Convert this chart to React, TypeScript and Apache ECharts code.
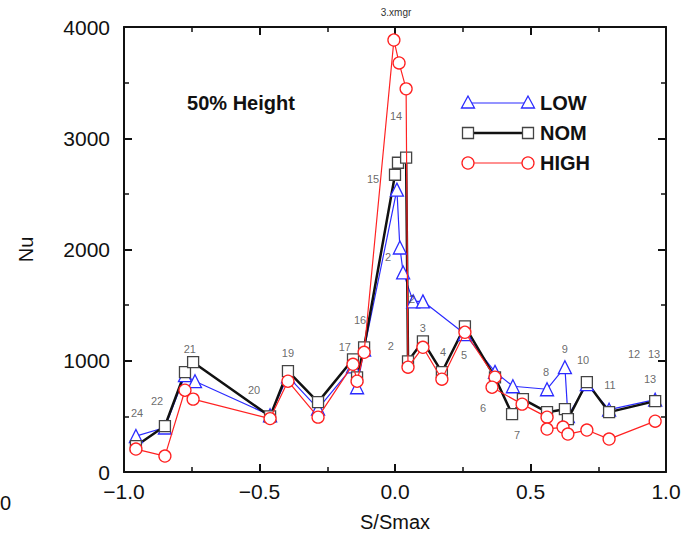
import React, { useEffect, useRef } from "react";
import * as echarts from "echarts";

const xTickLabels: Record<string, string> = { "-1": "\u22121.0", "-0.5": "\u22120.5", "0": "0.0", "0.5": "0.5", "1": "1.0" };
const yTickLabels = ["0", "1000", "2000", "3000", "4000"];

const lowX = [-0.956, -0.849, -0.775, -0.738, -0.461, -0.395, -0.284, -0.155, -0.14, -0.114, 0.007, 0.018, 0.03, 0.067, 0.103, 0.258, 0.369, 0.435, 0.561, 0.627, 0.638, 0.708, 0.79, 0.96];
const lowY = [323, 400, 870, 816, 510, 860, 570, 950, 762, 1100, 2538, 2018, 1794, 1534, 1534, 1240, 900, 771, 744, 942, 502, 790, 560, 650];

const nomX = [-0.956, -0.849, -0.775, -0.745, -0.461, -0.395, -0.284, -0.155, -0.14, -0.114, 0.0, 0.011, 0.041, 0.048, 0.103, 0.173, 0.258, 0.369, 0.432, 0.472, 0.561, 0.627, 0.638, 0.708, 0.79, 0.96];
const nomY = [233, 413, 897, 987, 500, 906, 628, 1013, 850, 1121, 2672, 2780, 2825, 995, 1175, 897, 1309, 850, 520, 655, 538, 565, 475, 807, 538, 637];

const highX = [-0.956, -0.849, -0.775, -0.745, -0.461, -0.395, -0.284, -0.155, -0.14, -0.114, -0.004, 0.015, 0.041, 0.048, 0.103, 0.173, 0.258, 0.369, 0.358, 0.469, 0.561, 0.561, 0.62, 0.638, 0.708, 0.79, 0.96];
const highY = [206, 143, 735, 655, 480, 816, 493, 968, 816, 1076, 3883, 3677, 3444, 942, 1121, 834, 1256, 852, 762, 610, 493, 386, 404, 341, 377, 296, 457];

const stationNames = ["24", "22", "21", "20", "19", "17", "16", "15", "14", "2", "2", "2", "3", "4", "5", "6", "7", "8", "9", "10", "11", "12", "13", "13"];
const stationX = [-0.952, -0.878, -0.757, -0.52, -0.395, -0.185, -0.129, -0.081, 0.004, -0.026, -0.015, 0.063, 0.103, 0.177, 0.255, 0.325, 0.45, 0.557, 0.627, 0.694, 0.793, 0.882, 0.956, 0.941];
const stationY = [529, 637, 1103, 735, 1067, 1121, 1363, 2637, 3202, 1937, 1130, 1552, 1291, 1076, 1049, 574, 332, 897, 1103, 1004, 780, 1058, 1058, 834];

const legendNames = ["LOW", "NOM", "HIGH"];
const BLUE = "#2b2bff";
const BLACK = "#111111";
const RED = "#ff2222";
const LABEL = "#444444";
const FONT = "Liberation Sans, Arial, sans-serif";

function zip(xs: number[], ys: number[]) {
  return xs.map((x, i) => [x, ys[i]]);
}

export default function App() {
  const ref = useRef<HTMLDivElement>(null);
  useEffect(() => {
    if (!ref.current) return;
    const chart = echarts.init(ref.current, undefined, { renderer: "svg" });
    const axisCommon = {
      axisLine: { show: true, onZero: false, lineStyle: { color: BLACK, width: 2 } },
      axisTick: { show: true, inside: true, length: 8, lineStyle: { color: BLACK, width: 2 } },
      minorTick: { show: true, splitNumber: 2, length: 5, lineStyle: { color: BLACK, width: 1.5 } },
      splitLine: { show: false },
    };
    const legendY = [103, 133, 163];
    const legendSym = ["tri", "rect", "circ"];
    const legendColors = [BLUE, "#333333", RED];
    const legendGraphics: any[] = [];
    legendNames.forEach((name, i) => {
      const y = legendY[i];
      const c = legendColors[i];
      legendGraphics.push({
        type: "line",
        shape: { x1: 468, y1: y, x2: 528, y2: y },
        style: { stroke: i === 1 ? BLACK : c, lineWidth: i === 1 ? 2.5 : 1.2 },
      });
      [468, 528].forEach((cx) => {
        if (legendSym[i] === "tri") {
          legendGraphics.push({
            type: "polygon",
            shape: { points: [[cx, y - 7], [cx - 6.5, y + 5], [cx + 6.5, y + 5]] },
            style: { fill: "#fff", stroke: c, lineWidth: 1.3 },
          });
        } else if (legendSym[i] === "rect") {
          legendGraphics.push({
            type: "rect",
            shape: { x: cx - 5.5, y: y - 5.5, width: 11, height: 11 },
            style: { fill: "#fff", stroke: "#444", lineWidth: 1.3 },
          });
        } else {
          legendGraphics.push({
            type: "circle",
            shape: { cx, cy: y, r: 6 },
            style: { fill: "#fff", stroke: c, lineWidth: 1.3 },
          });
        }
      });
      legendGraphics.push({
        type: "text",
        x: 540,
        y,
        style: { text: name, font: `bold 20px ${FONT}`, fill: BLACK, textVerticalAlign: "middle" },
      });
    });

    chart.setOption({
      animation: false,
      backgroundColor: "#ffffff",
      grid: { left: 124, right: 26, top: 27, bottom: 64 },
      xAxis: [
        {
          type: "value",
          min: -1,
          max: 1,
          interval: 0.5,
          position: "bottom",
          ...axisCommon,
          axisLabel: {
            margin: 9,
            color: BLACK,
            fontFamily: FONT,
            fontSize: 21,
            formatter: (v: number) => xTickLabels[String(v)] ?? String(v),
          },
          name: "S/Smax",
          nameLocation: "middle",
          nameGap: 40,
          nameTextStyle: { color: BLACK, fontFamily: FONT, fontSize: 20 },
        },
        {
          type: "value",
          min: -1,
          max: 1,
          interval: 0.5,
          position: "top",
          ...axisCommon,
          axisLabel: { show: false },
        },
      ],
      yAxis: [
        {
          type: "value",
          min: 0,
          max: 4000,
          interval: 1000,
          position: "left",
          ...axisCommon,
          axisLabel: {
            margin: 14,
            color: BLACK,
            fontFamily: FONT,
            fontSize: 21,
            padding: [0, 0, 4, 0],
            formatter: (v: number) => yTickLabels[Math.round(v / 1000)] ?? String(v),
          },
          name: "Nu",
          nameLocation: "middle",
          nameGap: 88,
          nameTextStyle: { color: BLACK, fontFamily: FONT, fontSize: 20 },
        },
        {
          type: "value",
          min: 0,
          max: 4000,
          interval: 1000,
          position: "right",
          ...axisCommon,
          axisLabel: { show: false },
        },
      ],
      series: [
        {
          name: "LOW",
          type: "line",
          data: zip(lowX, lowY),
          symbol: "triangle",
          symbolSize: 13,
          showAllSymbol: true,
          lineStyle: { color: BLUE, width: 1.2 },
          itemStyle: { color: "#fff", borderColor: BLUE, borderWidth: 1.3 },
          z: 3,
        },
        {
          name: "HIGH",
          type: "line",
          data: zip(highX, highY),
          symbol: "circle",
          symbolSize: 12,
          showAllSymbol: true,
          lineStyle: { color: RED, width: 1.2 },
          itemStyle: { color: "#fff", borderColor: RED, borderWidth: 1.3 },
          z: 4,
        },
        {
          name: "NOM",
          type: "line",
          data: zip(nomX, nomY),
          symbol: "rect",
          symbolSize: 11,
          showAllSymbol: true,
          lineStyle: { color: BLACK, width: 2.5 },
          itemStyle: { color: "#fff", borderColor: "#444", borderWidth: 1.3 },
          z: 3,
        },
        {
          name: "stations",
          type: "scatter",
          data: stationX.map((x, i) => ({ value: [x, stationY[i]], name: stationNames[i] })),
          symbolSize: 1,
          silent: true,
          itemStyle: { color: "rgba(0,0,0,0)" },
          label: {
            show: true,
            position: "top",
            distance: -6,
            formatter: (p: any) => p.name,
            color: LABEL,
            fontFamily: FONT,
            fontSize: 11,
          },
          z: 6,
        },
      ],
      graphic: [
        {
          type: "text",
          x: 241,
          y: 103,
          style: { text: "50% Height", font: `bold 20px ${FONT}`, fill: BLACK, textAlign: "center", textVerticalAlign: "middle" },
        },
        {
          type: "text",
          x: 396,
          y: 12,
          style: { text: "3.xmgr", font: `10px ${FONT}`, fill: "#333", textAlign: "center", textVerticalAlign: "middle" },
        },
        {
          type: "text",
          x: 0,
          y: 503,
          style: { text: "0", font: `20px ${FONT}`, fill: BLACK, textVerticalAlign: "middle" },
        },
        ...legendGraphics,
      ],
    });
    return () => chart.dispose();
  }, []);
  return <div ref={ref} style={{ width: 692, height: 537, position: "absolute", left: 0, top: 0 }} />;
}
